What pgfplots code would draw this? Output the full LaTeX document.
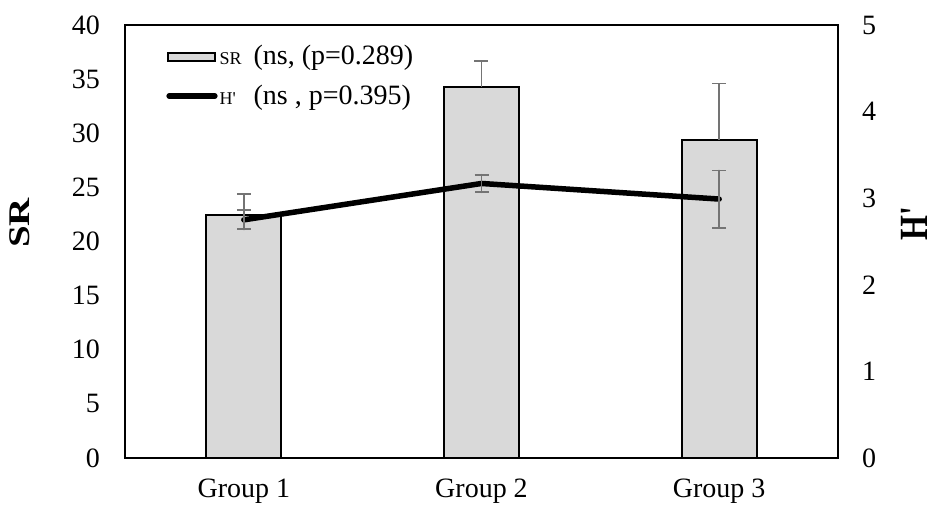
\documentclass[border=0pt]{standalone}
\usepackage{pgfplots}
\pgfplotsset{compat=1.18}
\usepackage{fontspec}
\setmainfont{Liberation Serif}
\definecolor{barfill}{HTML}{D9D9D9}
\definecolor{errgray}{HTML}{747474}
\begin{document}
\begin{tikzpicture}
\useasboundingbox (-62.5pt,-29.5pt) rectangle (406.5pt,229pt);
\begin{axis}[
  at={(0,0)}, anchor=south west,
  scale only axis, width=356.5pt, height=216.5pt,
  xmin=-0.5, xmax=2.5, ymin=0, ymax=40,
  xtick={0,1,2}, xticklabels={Group 1,Group 2,Group 3},
  ytick={0,5,...,40},
  ytick pos=left, xtick pos=bottom,
  major tick length=0pt,
  axis line style={line width=0.75pt},
  /pgf/number format/assume math mode=true,
  tick label style={font=\fontsize{14}{16}\selectfont},
  yticklabel style={xshift=-9pt},
  xticklabel style={yshift=-7pt},
  ylabel={\scalebox{1.3}[1]{SR}},
  ylabel style={font=\fontsize{15}{17}\selectfont\bfseries, at={(axis description cs:-0.1473,0.5427)}, anchor=center},
]
\addplot[ybar, bar width=37.5pt, fill=barfill, draw=black, line width=0.9pt,
  error bars/.cd, y dir=plus, y explicit,
  error bar style={errgray, line width=0.9pt},
  error mark options={rotate=90, mark size=3.5pt, errgray, line width=0.9pt}]
  coordinates {(0,22.45) +- (0,1.95) (1,34.3) +- (0,2.4) (2,29.4) +- (0,5.2)};
\end{axis}
\begin{axis}[
  at={(0,0)}, anchor=south west,
  scale only axis, width=356.5pt, height=216.5pt,
  xmin=-0.5, xmax=2.5, ymin=0, ymax=5,
  axis y line*=right, axis x line=none,
  ytick={0,1,...,5},
  major tick length=0pt,
  axis line style={line width=0.75pt},
  /pgf/number format/assume math mode=true,
  tick label style={font=\fontsize{14}{16}\selectfont},
  yticklabel style={xshift=8.5pt},
  ylabel={\scalebox{0.8}[1]{H\textquotesingle}},
  ylabel style={font=\fontsize{20}{22}\selectfont\bfseries, at={(axis description cs:1.1066,0.541)}, anchor=center},
  legend style={at={(rel axis cs:0,1)}, anchor=north west, xshift=20.5pt, yshift=-9pt,
    draw=none, fill=none, inner sep=0pt, font=\fontsize{14}{16}\selectfont,
    nodes={inner sep=1pt}, row sep=6.5pt},
  legend cell align=left,
]
\addlegendimage{legend image code/.code={\draw[fill=barfill,draw=black,line width=0.9pt] (0pt,-2pt) rectangle (23.5pt,2pt);}}
\addlegendentry{\makebox[17pt][l]{\fontsize{9}{10}\selectfont SR}(ns, (p=0.289)}
\addplot[black, line width=2.75pt, line cap=round, line join=round, mark=none,
  legend image code/.code={\draw[black,line width=2.6pt,line cap=round] (0.5pt,0pt)--(23.5pt,0pt);},
  error bars/.cd, y dir=both, y explicit,
  error bar style={errgray, line width=0.9pt},
  error mark options={rotate=90, mark size=3.5pt, errgray, line width=0.9pt}]
  coordinates {(0,2.75) +- (0,0.11) (1,3.17) +- (0,0.1) (2,2.99) +- (0,0.33)};
\addlegendentry{\makebox[17pt][l]{\fontsize{9}{10}\selectfont H\textquotesingle}(ns , p=0.395)}
\end{axis}
\end{tikzpicture}
\end{document}
